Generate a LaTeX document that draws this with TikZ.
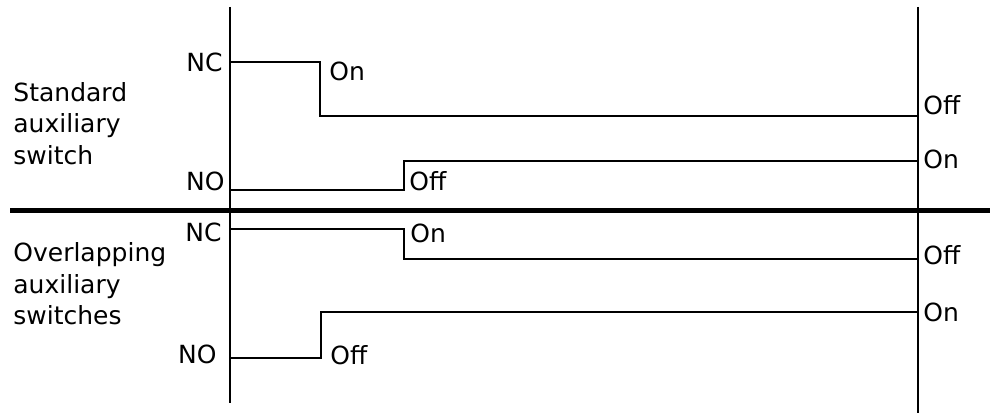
\documentclass[tikz,border=0pt]{standalone}
\usepackage{fontspec}
\setmainfont{DejaVu Sans}
\usepackage{tikz}
\usetikzlibrary{positioning,calc}

\begin{document}
\begin{tikzpicture}[x=0.5pt,y=-0.5pt,font=\fontsize{12.5}{15.8}\selectfont,
		axis/.style={line width=1pt},
		wave/.style={line width=1pt},
		divider/.style={line width=2.5pt},
		lbl/.style={inner sep=0pt, anchor=west},
		group/.style={inner sep=0pt, anchor=west, align=left}]
		\useasboundingbox (0,0) rectangle (990,417);
		% time axes and divider
		\coordinate (axL1) at (230,7);   \coordinate (axL2) at (230,403);
		\coordinate (axR1) at (918,7);   \coordinate (axR2) at (918,413);
		\coordinate (divL) at (10,210.5); \coordinate (divR) at (990,210.5);
		\draw[axis] (axL1) -- (axL2);
		\draw[axis] (axR1) -- (axR2);
		\draw[divider] (divL) -- (divR);
		% standard auxiliary switch
		\coordinate (sNC1) at (230,62.5); \coordinate (sNC2) at (320,62.5);
		\coordinate (sNC3) at (320,116);  \coordinate (sNC4) at (918,116);
		\coordinate (sNO1) at (230,190);  \coordinate (sNO2) at (404,190);
		\coordinate (sNO3) at (404,161);  \coordinate (sNO4) at (918,161);
		\draw[wave] (sNC1) -- (sNC2) -- (sNC3) -- (sNC4);
		\draw[wave] (sNO1) -- (sNO2) -- (sNO3) -- (sNO4);
		% overlapping auxiliary switches
		\coordinate (oNC1) at (230,229);  \coordinate (oNC2) at (404,229);
		\coordinate (oNC3) at (404,259);  \coordinate (oNC4) at (918,259);
		\coordinate (oNO1) at (230,358);  \coordinate (oNO2) at (321,358);
		\coordinate (oNO3) at (321,312);  \coordinate (oNO4) at (918,312);
		\draw[wave] (oNC1) -- (oNC2) -- (oNC3) -- (oNC4);
		\draw[wave] (oNO1) -- (oNO2) -- (oNO3) -- (oNO4);
		% labels
		\node[group] (stdText) at (13,123.5) {Standard\\auxiliary\\switch};
		\node[group] (ovlText) at (13,284) {Overlapping\\auxiliary\\switches};
		\node[lbl, anchor=east] (sNC) at (223,62.5) {NC};
		\node[lbl, anchor=east] (sNO) at (225,181) {NO};
		\node[lbl] (sOn) at (329,71) {On};
		\node[lbl] (sOff) at (409,181) {Off};
		\node[lbl] (sOffR) at (923,105) {Off};
		\node[lbl] (sOnR) at (923,159) {On};
		\node[lbl, anchor=east] (oNC) at (222,232) {NC};
		\node[lbl, anchor=east] (oNO) at (217,354) {NO};
		\node[lbl] (oOn) at (410,233) {On};
		\node[lbl] (oOff) at (330,355) {Off};
		\node[lbl] (oOffR) at (923,255) {Off};
		\node[lbl] (oOnR) at (923,312) {On};
	\end{tikzpicture}
\end{document}
